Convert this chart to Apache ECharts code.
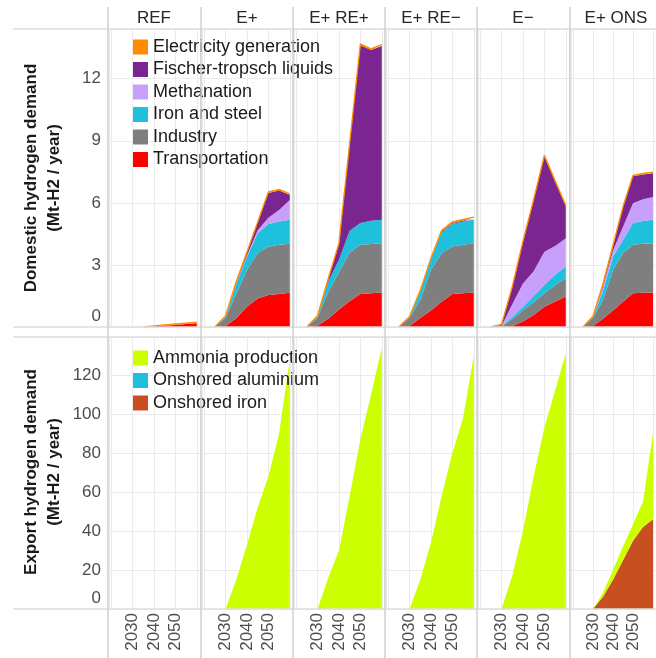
<!DOCTYPE html>
<html><head><meta charset="utf-8">
<script src="https://cdn.jsdelivr.net/npm/echarts@6/dist/echarts.min.js"></script>
<style>html,body{margin:0;padding:0;background:#fff}#c{width:656px;height:658px}</style>
</head><body><div id="c"></div>
<script>
// ---- data ----
const years = [2020, 2025, 2030, 2035, 2040, 2045, 2050, 2055, 2060];
const scenarios = ['REF', 'E+', 'E+ RE+', 'E+ RE\u2212', 'E\u2212', 'E+ ONS'];
const xTickLabels = [2030, 2040, 2050];
const domesticTicks = [0, 3, 6, 9, 12];
const exportTicks = [0, 20, 40, 60, 80, 100, 120];

// Domestic hydrogen demand (Mt-H2 / year); one row per scenario, in scenario order
const transportation = [
  [0, 0, 0, 0, 0.02, 0.06, 0.10, 0.14, 0.18],
  [0, 0, 0.05, 0.42, 0.98, 1.38, 1.55, 1.60, 1.65],
  [0, 0, 0.06, 0.40, 0.85, 1.25, 1.60, 1.63, 1.67],
  [0, 0, 0.05, 0.43, 0.80, 1.22, 1.60, 1.63, 1.67],
  [0, 0, 0, 0.05, 0.26, 0.58, 0.98, 1.22, 1.47],
  [0, 0, 0.05, 0.40, 0.80, 1.22, 1.63, 1.65, 1.67]
];
const industry = [
  [0, 0, 0, 0, 0, 0, 0, 0, 0],
  [0, 0, 0.40, 1.20, 1.78, 2.20, 2.33, 2.37, 2.37],
  [0, 0, 0.40, 1.30, 1.80, 2.35, 2.37, 2.38, 2.38],
  [0, 0, 0.40, 0.87, 1.96, 2.36, 2.29, 2.35, 2.38],
  [0, 0, 0.02, 0.32, 0.54, 0.62, 0.65, 0.80, 0.88],
  [0, 0, 0.40, 0.90, 1.96, 2.36, 2.34, 2.37, 2.38]
];
const ironAndSteel = [
  [0, 0, 0, 0, 0, 0, 0, 0, 0],
  [0, 0, 0.05, 0.45, 0.62, 0.95, 1.10, 1.13, 1.16],
  [0, 0, 0.05, 0.50, 0.60, 1.05, 1.05, 1.12, 1.13],
  [0, 0, 0.03, 0.40, 0.50, 1.00, 1.10, 1.12, 1.15],
  [0, 0, 0.01, 0.13, 0.17, 0.30, 0.40, 0.50, 0.57],
  [0, 0, 0.03, 0.45, 0.64, 0.62, 1.05, 1.10, 1.13]
];
const methanation = [
  [0, 0, 0, 0, 0, 0, 0, 0, 0],
  [0, 0, 0, 0.03, 0.08, 0.15, 0.30, 0.55, 0.96],
  [0, 0, 0, 0, 0, 0, 0, 0, 0],
  [0, 0, 0, 0, 0, 0, 0, 0, 0],
  [0, 0, 0.02, 0.60, 1.13, 1.20, 1.61, 1.40, 1.37],
  [0, 0, 0, 0.20, 0.30, 0.65, 0.96, 1.05, 1.10]
];
const fischerTropsch = [
  [0, 0, 0, 0, 0, 0, 0, 0, 0],
  [0, 0, 0, 0.05, 0.12, 0.35, 1.20, 0.95, 0.25],
  [0, 0, 0, 0.10, 0.75, 4.20, 8.60, 8.25, 8.40],
  [0, 0, 0, 0.02, 0.02, 0.04, 0.04, 0.05, 0.06],
  [0, 0, 0.05, 0.80, 2.00, 3.42, 4.60, 3.10, 1.54],
  [0, 0, 0, 0.09, 0.21, 0.92, 1.30, 1.20, 1.15]
];
// null = no hydrogen use for power yet (nothing to outline)
const electricityGeneration = [
  [null, null, null, 0, 0.03, 0.04, 0.05, 0.05, 0.05],
  [null, 0, 0.04, 0.05, 0.05, 0.05, 0.05, 0.05, 0.05],
  [null, 0, 0.04, 0.05, 0.05, 0.05, 0.06, 0.06, 0.06],
  [null, 0, 0.03, 0.05, 0.05, 0.05, 0.05, 0.05, 0.05],
  [null, 0, 0.03, 0.05, 0.05, 0.05, 0.06, 0.06, 0.05],
  [null, 0, 0.04, 0.05, 0.05, 0.05, 0.05, 0.05, 0.05]
];

// Export hydrogen demand (Mt-H2 / year)
const onshoredIron = [
  [0, 0, 0, 0, 0, 0, 0, 0, 0],
  [0, 0, 0, 0, 0, 0, 0, 0, 0],
  [0, 0, 0, 0, 0, 0, 0, 0, 0],
  [0, 0, 0, 0, 0, 0, 0, 0, 0],
  [0, 0, 0, 0, 0, 0, 0, 0, 0],
  [0, 0, 0, 6.3, 15, 25, 35, 42, 46]
];
const onshoredAluminium = [
  [0, 0, 0, 0, 0, 0, 0, 0, 0],
  [0, 0, 0, 0, 0, 0, 0, 0, 0],
  [0, 0, 0, 0, 0, 0, 0, 0, 0],
  [0, 0, 0, 0, 0, 0, 0, 0, 0],
  [0, 0, 0, 0, 0, 0, 0, 0, 0],
  [0, 0, 0, 0, 0, 0, 0, 0, 0]
];
const ammoniaProduction = [
  [0, 0, 0, 0, 0, 0, 0, 0, 0],
  [0, 0, 0, 15, 33, 52, 68, 90, 128],
  [0, 0, 0, 16, 30, 58, 87, 110, 134],
  [0, 0, 0, 15, 34, 58, 80, 98, 130],
  [0, 0, 0, 17, 40, 68, 93, 112, 131],
  [0, 0, 0, 2, 5, 7, 8.5, 13, 44]
];

// ---- layout & style ----
const FONT = '"Liberation Sans", Arial, sans-serif';
const colLeft = [108, 201, 293, 385, 477, 570];
const panelW = 91;
const rows = [{top: 29, height: 298, max: 14.4, interval: 3, ticks: domesticTicks},
              {top: 337, height: 272, max: 139.5, interval: 20, ticks: exportTicks}];
const domesticSeries = [
  {name: 'Transportation', data: transportation, color: '#FF0000'},
  {name: 'Industry', data: industry, color: '#7F7F7F'},
  {name: 'Iron and steel', data: ironAndSteel, color: '#1FC0DB'},
  {name: 'Methanation', data: methanation, color: '#C6A0FA'},
  {name: 'Fischer-tropsch liquids', data: fischerTropsch, color: '#7A2590'},
  {name: 'Electricity generation', data: electricityGeneration, color: '#FF8C00', outline: true}
];
const exportSeries = [
  {name: 'Onshored iron', data: onshoredIron, color: '#C74F21'},
  {name: 'Onshored aluminium', data: onshoredAluminium, color: '#1FC0DB'},
  {name: 'Ammonia production', data: ammoniaProduction, color: '#CCFF00'}
];

const grids = [], xAxes = [], yAxes = [], series = [];
rows.forEach((row, r) => {
  colLeft.forEach((lx, c) => {
    const gi = grids.length;
    grids.push({left: lx + 1, top: row.top, width: panelW, height: row.height});
    xAxes.push({
      type: 'value', gridIndex: gi, min: 2019, max: 2061.5, splitNumber: 4,
      axisLine: {show: false}, axisTick: {show: false},
      splitLine: {show: true, lineStyle: {color: '#ebebeb', width: 1}},
      axisLabel: {
        show: r === 1, rotate: 90, margin: 4, fontSize: 17, color: '#4d4d4d', fontFamily: FONT,
        formatter: v => xTickLabels.includes(v) ? String(v) : ''
      }
    });
    yAxes.push({
      type: 'value', gridIndex: gi, min: 0, max: row.max, interval: row.interval,
      axisLine: {show: false}, axisTick: {show: false},
      splitLine: {show: true, lineStyle: {color: '#ebebeb', width: 1}},
      axisLabel: {
        show: c === 0, margin: 8, fontSize: 17, color: '#4d4d4d', fontFamily: FONT,
        formatter: v => v === 0 ? '{z|0}' : (row.ticks.includes(v) ? String(v) : ''),
        rich: {z: {fontSize: 17, color: '#4d4d4d', fontFamily: FONT, padding: [0, 0, 22, 0]}}
      }
    });
    const defs = r === 0 ? domesticSeries : exportSeries;
    defs.forEach(d => {
      series.push({
        type: 'line', name: d.name, xAxisIndex: gi, yAxisIndex: gi,
        stack: 'row' + r + 'col' + c, color: d.color,
        // value first, year second, so that the stack is applied to the value dimension
        data: years.map((y, i) => [d.data[c][i], y]),
        encode: {x: 1, y: 0},
        showSymbol: false, symbol: 'none',
        lineStyle: d.outline ? {width: 1.3, color: d.color} : {width: 0},
        areaStyle: {color: d.color, opacity: 1}, silent: true, animation: false
      });
    });
  });
});

const graphics = [];
[29, 327, 337, 609].forEach(y => graphics.push({
  type: 'line', shape: {x1: 13, y1: y, x2: 656, y2: y},
  style: {stroke: '#dedede', lineWidth: 1.5}, z: 10
}));
colLeft.forEach(x => graphics.push({
  type: 'line', shape: {x1: x, y1: 7, x2: x, y2: 658},
  style: {stroke: '#cfcfcf', lineWidth: 1.5}, z: 10
}));
scenarios.forEach((s, c) => graphics.push({
  type: 'text', x: colLeft[c] + 46, y: 18, z: 10,
  style: {text: s, font: '17px ' + FONT, fill: '#262626', align: 'center', verticalAlign: 'middle'}
}));
[['Domestic hydrogen demand\n(Mt-H2 / year)', 178], ['Export hydrogen demand\n(Mt-H2 / year)', 472]].forEach(([t, y]) => graphics.push({
  type: 'text', x: 42.5, y: y, rotation: Math.PI / 2, z: 10,
  style: {text: t, font: 'bold 17px ' + FONT, fill: '#1a1a1a', align: 'center', verticalAlign: 'middle', lineHeight: 23}
}));

const chart = echarts.init(document.getElementById('c'), null, {renderer: 'canvas'});
chart.setOption({
  animation: false,
  backgroundColor: '#ffffff',
  grid: grids, xAxis: xAxes, yAxis: yAxes, series: series,
  legend: [
    {orient: 'vertical', left: 128, top: 33, itemWidth: 15, itemHeight: 15, itemGap: 4.5, icon: 'rect',
     selectedMode: false, data: domesticSeries.map(d => d.name).reverse(),
     textStyle: {fontSize: 18, color: '#1a1a1a', fontFamily: FONT}},
    {orient: 'vertical', left: 128, top: 344, itemWidth: 15, itemHeight: 15, itemGap: 4.5, icon: 'rect',
     selectedMode: false, data: exportSeries.map(d => d.name).reverse(),
     textStyle: {fontSize: 18, color: '#1a1a1a', fontFamily: FONT}}
  ],
  graphic: graphics
});
</script></body></html>
